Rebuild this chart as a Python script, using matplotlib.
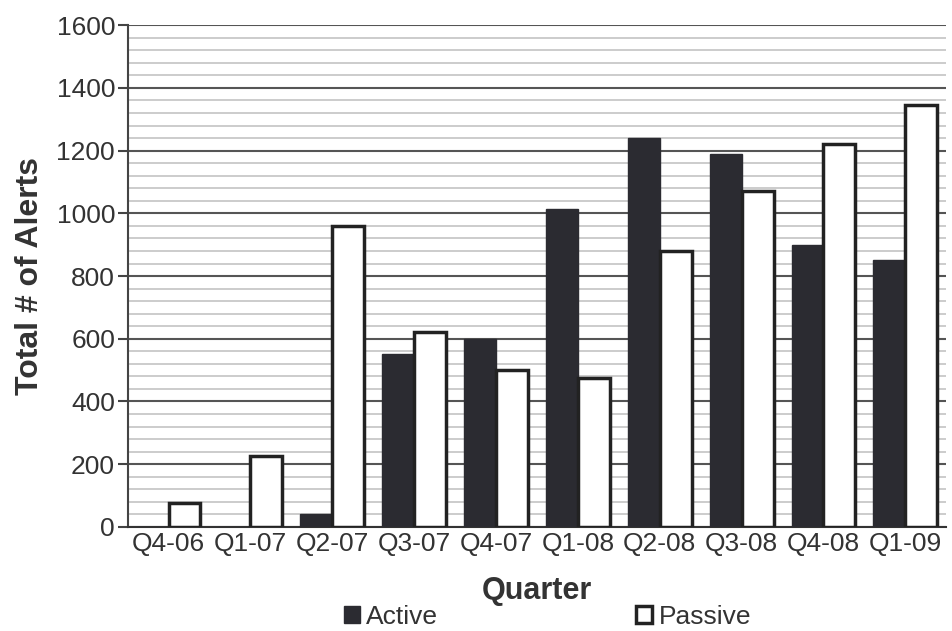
import numpy as np
import matplotlib.pyplot as plt
from matplotlib.patches import Patch
from matplotlib.ticker import MultipleLocator

quarters = ['Q4-06', 'Q1-07', 'Q2-07', 'Q3-07', 'Q4-07', 'Q1-08', 'Q2-08', 'Q3-08', 'Q4-08', 'Q1-09']
active = [0, 0, 40, 550, 600, 1015, 1240, 1190, 900, 850]
passive = [75, 225, 960, 620, 500, 475, 880, 1070, 1220, 1345]

plt.rcParams['font.family'] = ['Liberation Sans', 'DejaVu Sans']
textColor = '#333333'

fig = plt.figure(figsize=(9.52, 6.31), dpi=100)
ax = fig.add_axes([0.134, 0.165, 0.86, 0.795])

x = np.arange(len(quarters))
width = 0.39
ax.bar(x - width / 2, active, width, color='#2b2b31', edgecolor='#2b2b31', linewidth=1, zorder=3)
ax.bar(x + width / 2, passive, width, color='white', edgecolor='#222222', linewidth=2.5, zorder=3)

ax.set_xlim(-0.5, len(quarters) - 0.5)
ax.set_ylim(0, 1600)
ax.yaxis.set_major_locator(MultipleLocator(200))
ax.yaxis.set_minor_locator(MultipleLocator(40))
ax.grid(axis='y', which='major', color='#555555', linewidth=1.5, zorder=0)
ax.grid(axis='y', which='minor', color='#c8c8c8', linewidth=1.3, zorder=0)
ax.set_axisbelow(True)

ax.set_xticks(x)
ax.set_xticklabels(quarters)
ax.tick_params(axis='x', length=0, pad=4, labelsize=19, labelcolor=textColor)
ax.tick_params(axis='y', which='major', length=7, width=1.5, color='#444444', labelsize=19, labelcolor=textColor, pad=2)
ax.tick_params(axis='y', which='minor', length=0)

for side in ['top', 'right']:
    ax.spines[side].set_visible(False)
ax.spines['left'].set_color('#444444')
ax.spines['left'].set_linewidth(1.5)
ax.spines['bottom'].set_color('#333333')
ax.spines['bottom'].set_linewidth(1.5)

ax.set_xlabel('Quarter', fontsize=22, fontweight='bold', color=textColor, labelpad=14)
ax.set_ylabel('Total # of Alerts', fontsize=23, fontweight='bold', color=textColor, labelpad=8)

handles = [Patch(facecolor='#2b2b31', edgecolor='#2b2b31', label='Active'),
           Patch(facecolor='white', edgecolor='#222222', linewidth=2.5, label='Passive')]
leg = fig.legend(handles=handles, loc='center', bbox_to_anchor=(0.575, 0.022), ncol=2, frameon=False,
                 fontsize=19, handlelength=0.6, handleheight=0.6, handletextpad=0.25, columnspacing=7.5,
                 borderpad=0)
for t in leg.get_texts():
    t.set_color(textColor)

fig.savefig('out.png', dpi=100)
